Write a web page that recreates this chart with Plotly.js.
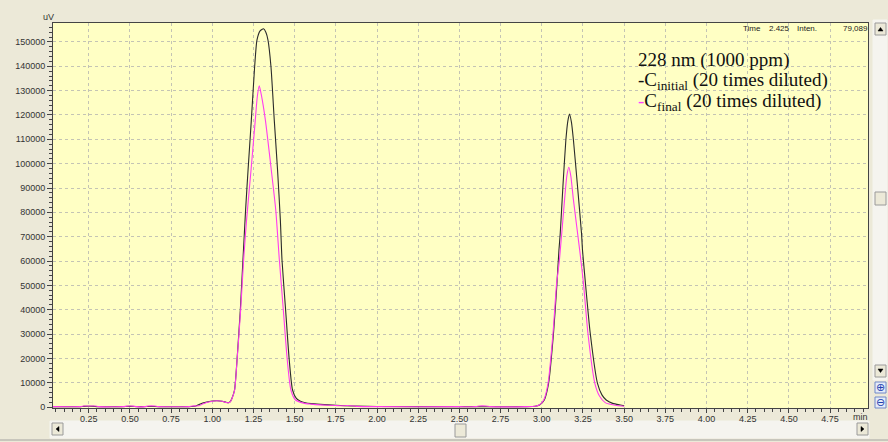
<!DOCTYPE html>
<html>
<head>
<meta charset="utf-8">
<script src="https://cdn.plot.ly/plotly-3.0.1.min.js"></script>
<style>html,body{margin:0;padding:0;background:#ECE9D8;}#chart{width:888px;height:442px;}</style>
</head>
<body>
<div id="chart"></div>
<script>
// Retention time (min) and signal (uV)
const initialTime = [0.03, 0.20, 0.22, 0.25, 0.28, 0.30, 0.45, 0.50, 0.55, 0.60, 0.65, 0.70, 0.80, 0.856, 0.90, 0.927, 0.96, 1.00, 1.028, 1.06, 1.085, 1.099, 1.11, 1.119, 1.135, 1.150, 1.170, 1.186, 1.202, 1.217, 1.237, 1.257, 1.271, 1.290, 1.311, 1.325, 1.338, 1.356, 1.376, 1.396, 1.413, 1.423, 1.445, 1.467, 1.487, 1.510, 1.535, 1.564, 1.60, 1.655, 1.75, 1.856, 2.0, 2.5, 2.9, 2.96, 2.986, 3.015, 3.041, 3.071, 3.092, 3.104, 3.112, 3.128, 3.146, 3.158, 3.168, 3.180, 3.192, 3.217, 3.241, 3.247, 3.265, 3.294, 3.338, 3.365, 3.391, 3.43, 3.476, 3.50];
const initialSignal = [150, 150, 250, 300, 250, 150, 150, 250, 150, 200, 200, 100, 100, 150, 400, 1230, 1900, 2450, 2600, 2400, 1900, 1770, 2300, 3500, 7000, 19300, 39900, 60400, 81000, 97400, 118000, 139900, 150800, 154600, 155400, 154000, 150800, 139900, 118000, 97400, 76900, 60400, 39900, 19300, 7000, 3560, 2400, 1770, 1400, 1100, 700, 400, 200, 150, 150, 300, 800, 2900, 9700, 30300, 50800, 64500, 71400, 90500, 109700, 117500, 120400, 117000, 109700, 90500, 71400, 64500, 50800, 30300, 9700, 5000, 2900, 1500, 800, 500];

const finalTime = [0.03, 0.20, 0.22, 0.25, 0.29, 0.31, 0.46, 0.48, 0.52, 0.54, 0.59, 0.61, 0.65, 0.67, 0.80, 0.86, 0.88, 0.92, 0.94, 0.96, 1.00, 1.028, 1.06, 1.085, 1.099, 1.11, 1.119, 1.135, 1.150, 1.172, 1.190, 1.208, 1.235, 1.261, 1.273, 1.285, 1.297, 1.322, 1.358, 1.385, 1.407, 1.431, 1.455, 1.477, 1.504, 1.554, 1.60, 1.655, 1.75, 1.79, 1.82, 1.86, 1.88, 2.0, 2.5, 2.60, 2.62, 2.66, 2.69, 2.9, 2.96, 2.984, 3.012, 3.038, 3.068, 3.090, 3.107, 3.138, 3.152, 3.164, 3.176, 3.192, 3.230, 3.253, 3.280, 3.322, 3.350, 3.385, 3.455, 3.50];
const finalSignal = [150, 150, 400, 450, 400, 150, 150, 350, 350, 150, 150, 400, 400, 150, 100, 150, 450, 500, 1200, 1800, 2400, 2550, 2350, 1850, 1750, 2250, 3400, 6800, 19000, 39900, 60400, 76900, 97400, 118000, 127500, 132000, 128500, 118000, 97400, 81000, 60400, 39900, 19300, 7000, 3000, 1600, 1200, 900, 600, 500, 600, 450, 250, 150, 150, 150, 400, 400, 150, 150, 300, 800, 2900, 9700, 30300, 50800, 60400, 85100, 95000, 98500, 95000, 85100, 64500, 50800, 30300, 9700, 4500, 1800, 600, 300];

const legendLines = ["228 nm (1000 ppm)", "-C<sub>initial</sub> (20 times diluted)", "<span style=\"color:#ff40ff\">-</span>C<sub>final</sub> (20 times diluted)"];
const readout = ["Time", "2.425", "Inten.", "79,089"];

// pixel helpers (plot area: x 53..868, y 23..408)
const L = 53, R = 868, T = 23, B = 408;
const px = v => (v - L) / (R - L);
const py = v => (B - v) / (B - T);

const traces = [
  {x: initialTime, y: initialSignal, type: 'scatter', mode: 'lines', name: 'initial',
   line: {color: '#2b2b2b', width: 1.1, shape: 'spline', smoothing: 0.6}},
  {x: finalTime, y: finalSignal, type: 'scatter', mode: 'lines', name: 'final',
   line: {color: '#ff3cf0', width: 1.1, shape: 'spline', smoothing: 0.6}}
];

function rect(x0, y0, x1, y1, fill, line, layer) {
  return {type: 'rect', xref: 'paper', yref: 'paper', x0: px(x0), x1: px(x1), y0: py(y1), y1: py(y0),
          fillcolor: fill, line: {color: line || fill, width: 1}, layer: layer || 'above'};
}
function tri(pts) {
  const p = pts.map((q, i) => (i ? 'L' : 'M') + px(q[0]) + ',' + py(q[1])).join(' ') + ' Z';
  return {type: 'path', xref: 'paper', yref: 'paper', path: p, fillcolor: '#000', line: {color: '#000', width: 0.5}, layer: 'above'};
}

const shapes = [
  // bottom scroll bar
  rect(50, 421, 869, 438, '#F5F4EF', '#F5F4EF', 'below'),
  rect(52, 423, 63, 435, '#ECE9D8', '#9a9a9a'),
  rect(455, 424, 466, 437, '#ECE9D8', '#9a9a9a'),
  rect(857, 423, 868, 435, '#ECE9D8', '#9a9a9a'),
  tri([[59, 426.5], [59, 431.5], [56, 429]]),
  tri([[861, 426.5], [861, 431.5], [864, 429]]),
  // right scroll bar
  rect(873, 20, 887, 380, '#F5F4EF', '#F5F4EF', 'below'),
  rect(875, 23, 886, 35, '#ECE9D8', '#9a9a9a'),
  rect(875, 192, 886, 205, '#ECE9D8', '#9a9a9a'),
  rect(875, 365, 886, 377, '#ECE9D8', '#9a9a9a'),
  tri([[878, 31], [883, 31], [880.5, 27.5]]),
  tri([[878, 369], [883, 369], [880.5, 372.5]]),
  // zoom buttons
  rect(875, 382, 886, 393, '#E4ECF8', '#7088c8'),
  rect(875, 397, 886, 408, '#E4ECF8', '#7088c8'),
  {type: 'line', xref: 'paper', yref: 'paper', x0: px(0), x1: px(888), y0: py(440), y1: py(440), line: {color: '#c8c6bc', width: 2}, layer: 'above'}
];

function note(x, y, text, font, xanchor) {
  return {xref: 'paper', yref: 'paper', x: px(x), y: py(y), xanchor: xanchor || 'center', yanchor: 'middle',
          text: text, showarrow: false, font: font};
}
const small = {family: 'Liberation Sans', size: 9, color: '#333'};
const tiny = {family: 'Liberation Sans', size: 8, color: '#222'};
const serif = {family: 'Liberation Serif', size: 19, color: '#111'};

const annotations = [
  note(48, 17, 'uV', small),
  note(860, 417, 'min', small),
  note(752, 28, readout[0], tiny),
  note(779, 28, readout[1], tiny),
  note(807, 28, readout[2], tiny),
  note(855, 28, readout[3], tiny),
  note(636, 60, legendLines[0], serif, 'left'),
  note(636, 81, legendLines[1], serif, 'left'),
  note(636, 102, legendLines[2], serif, 'left'),
  note(880.5, 387.5, '⊕', {family: 'DejaVu Sans', size: 11, color: '#2040b0'}),
  note(880.5, 402.5, '⊖', {family: 'DejaVu Sans', size: 11, color: '#2040b0'})
];

const layout = {
  width: 888, height: 442,
  margin: {l: L, r: 888 - R, t: T, b: 442 - B, pad: 0},
  paper_bgcolor: '#ECE9D8',
  plot_bgcolor: '#FFFFC4',
  showlegend: false,
  xaxis: {
    range: [0.033, 4.98], tick0: 0, dtick: 0.25, tickformat: '.2f',
    showgrid: true, gridcolor: '#c4c4b4', griddash: '3px,3px', gridwidth: 1,
    zeroline: false, showline: true, linecolor: '#444', linewidth: 1, mirror: true,
    ticks: 'outside', ticklen: 4, tickcolor: '#444',
    minor: {dtick: 0.05, ticks: 'outside', ticklen: 3, tickcolor: '#444', showgrid: false},
    tickfont: {family: 'Liberation Sans', size: 9, color: '#333'},
    ticklabelstandoff: -2
  },
  yaxis: {
    range: [-400, 157800], tick0: 0, dtick: 10000, tickformat: 'd',
    showgrid: true, gridcolor: '#c4c4b4', griddash: '3px,3px', gridwidth: 1,
    zeroline: false, showline: true, linecolor: '#444', linewidth: 1, mirror: true,
    ticks: 'outside', ticklen: 5, tickcolor: '#444',
    minor: {dtick: 2000, ticks: 'outside', ticklen: 3, tickcolor: '#444', showgrid: false},
    tickfont: {family: 'Liberation Sans', size: 9, color: '#333'}
  },
  shapes: shapes,
  annotations: annotations
};

Plotly.newPlot('chart', traces, layout, {displayModeBar: false, staticPlot: true});
</script>
</body>
</html>
